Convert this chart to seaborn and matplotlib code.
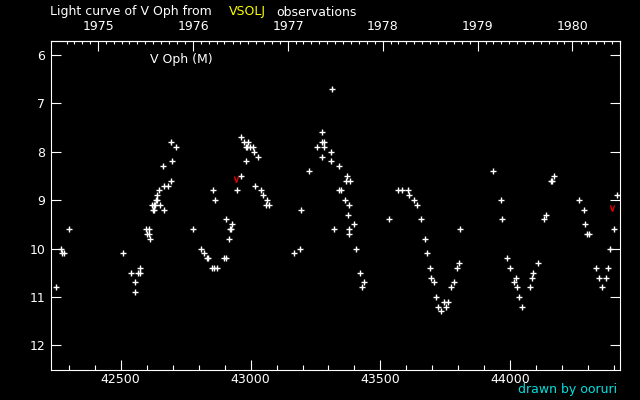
#!/usr/bin/env python3

# Light curve of V Oph (VSOLJ visual estimates), drawn in the old black style

import pandas as pd
import matplotlib
matplotlib.use("Agg")
import matplotlib.pyplot as plt
import seaborn as sns
from matplotlib.ticker import MultipleLocator

# Observations: JD - 2400000 and visual magnitude
jd = [
    42252, 42271, 42275, 42283, 42302,
    42510, 42541, 42556, 42556, 42568, 42575, 42575, 42599, 42610, 42602,
    42610, 42614, 42622, 42629, 42633, 42626, 42629, 42637, 42641, 42641,
    42649, 42652, 42668, 42683, 42668, 42664, 42695, 42695, 42699, 42714,
    42780, 42810, 42822, 42833, 42837, 42853, 42860, 42872, 42857, 42864,
    42899, 42907, 42907, 42918, 42922, 42926, 42930, 42949, 42964, 42976,
    42991, 42984, 42988, 42999, 43011, 43014, 43030, 42984, 42964, 43018,
    43041, 43049, 43064, 43061, 43072,
    43168, 43192, 43195, 43226, 43257, 43276, 43276, 43284, 43284, 43276,
    43311, 43311, 43315, 43322, 43342, 43342, 43349, 43365, 43369, 43373,
    43376, 43380, 43380, 43380, 43384, 43400, 43407, 43423, 43430, 43438,
    43534, 43569, 43584, 43607, 43611, 43631, 43642, 43658, 43673, 43681,
    43692, 43696, 43708, 43715, 43723, 43734, 43746, 43754, 43761, 43773,
    43785, 43796, 43804, 43808,
    43935, 43966, 43969, 43989, 44000, 44016, 44023, 44027, 44035, 44046,
    44077, 44085, 44089, 44108, 44131, 44139, 44158, 44162, 44170,
    44266, 44285, 44289, 44297, 44304, 44331, 44343, 44354, 44370, 44378,
    44384, 44401, 44412,
]
mag = [
    10.8, 10.0, 10.1, 10.1, 9.6,
    10.1, 10.5, 10.7, 10.9, 10.5, 10.5, 10.4, 9.6, 9.6, 9.7,
    9.7, 9.8, 9.1, 9.1, 9.1, 9.2, 9.2, 9.0, 9.0, 8.9,
    8.8, 9.1, 8.7, 8.7, 9.2, 8.3, 8.6, 7.8, 8.2, 7.9,
    9.6, 10.0, 10.1, 10.2, 10.2, 10.4, 10.4, 10.4, 8.8, 9.0,
    10.2, 10.2, 9.4, 9.8, 9.6, 9.6, 9.5, 8.8, 7.7, 7.8,
    7.8, 7.9, 7.9, 7.9, 7.9, 8.0, 8.1, 8.2, 8.5, 8.7,
    8.8, 8.9, 9.0, 9.1, 9.1,
    10.1, 10.0, 9.2, 8.4, 7.9, 7.6, 7.8, 7.8, 7.9, 8.1,
    8.0, 8.2, 6.7, 9.6, 8.3, 8.8, 8.8, 9.0, 8.6, 8.5,
    9.3, 9.1, 9.6, 9.7, 8.6, 9.5, 10.0, 10.5, 10.8, 10.7,
    9.4, 8.8, 8.8, 8.8, 8.9, 9.0, 9.1, 9.4, 9.8, 10.1,
    10.4, 10.6, 10.7, 11.0, 11.2, 11.3, 11.1, 11.2, 11.1, 10.8,
    10.7, 10.4, 10.3, 9.6,
    8.4, 9.0, 9.4, 10.2, 10.4, 10.7, 10.6, 10.8, 11.0, 11.2,
    10.8, 10.6, 10.5, 10.3, 9.4, 9.3, 8.6, 8.6, 8.5,
    9.0, 9.2, 9.5, 9.7, 9.7, 10.4, 10.6, 10.8, 10.6, 10.4,
    10.0, 9.6, 8.9,
]

# the two red "v" marks
jd_v = [42945, 44393]
mag_v = [8.56, 9.17]

years = [1975, 1976, 1977, 1978, 1979, 1980]

obs = pd.DataFrame({"JD": jd, "mag": mag})
obs_v = pd.DataFrame({"JD": jd_v, "mag": mag_v})

sns.set_style("dark")
plt.rcParams.update({
    "figure.facecolor": "black",
    "axes.facecolor": "black",
    "axes.edgecolor": "white",
    "axes.linewidth": 0.8,
    "xtick.color": "white",
    "ytick.color": "white",
    "text.color": "white",
    "font.size": 9,
})
plt.rcParams["font.family"] = ["DejaVu Sans"]

fig = plt.figure(figsize=(6.4, 4.0), dpi=100)
ax = fig.add_axes([50.7 / 640, 30 / 400, 569.6 / 640, 329 / 400])

sns.scatterplot(data=obs, x="JD", y="mag", ax=ax, marker="+", s=16,
                color="white", linewidth=1.0)
sns.scatterplot(data=obs_v, x="JD", y="mag", ax=ax, marker=r"$\vee$", s=18,
                color="red", edgecolor="red", linewidth=0.2)

ax.set_xlim(42230.5, 44423.6)
ax.set_ylim(12.51, 5.713)
ax.set_xlabel("")
ax.set_ylabel("")
ax.grid(False)

ax.xaxis.set_major_locator(MultipleLocator(500))
ax.xaxis.set_minor_locator(MultipleLocator(100))
ax.yaxis.set_major_locator(MultipleLocator(1))
ax.tick_params(axis="x", which="major", direction="in", length=7.2, width=0.8,
               pad=2.5, labelsize=9, bottom=True, top=False)
ax.tick_params(axis="x", which="minor", direction="in", length=3.6, width=0.8,
               bottom=True, top=False)
ax.tick_params(axis="y", which="major", direction="in", length=7.2, width=0.8,
               pad=4, labelsize=9, left=True, right=True, labelright=False)

# year scale along the top
year_jd = [pd.Timestamp(f"{y}-01-01").to_julian_date() - 2400000 for y in years]
month_jd = [d.to_julian_date() - 2400000
            for d in pd.date_range("1974-09-01", "1980-09-01", freq="MS")]
top = ax.secondary_xaxis("top")
top.set_xticks(year_jd, labels=[str(y) for y in years])
top.set_xticks(month_jd, minor=True)
top.tick_params(which="major", direction="in", length=7.2, width=0.8, pad=5.5,
                labelsize=9, colors="white")
top.tick_params(which="minor", direction="in", length=2.5, width=0.8,
                colors="white")
top.spines["top"].set_color("white")

ax.text(150 / 640, 1 - 60 / 400, "V Oph (M)", transform=fig.transFigure,
        ha="left", va="center", fontsize=9)

fig.text(50 / 640, 1 - 12 / 400, "Light curve of V Oph from", ha="left",
         va="center", fontsize=9)
fig.text(229 / 640, 1 - 12 / 400, "VSOLJ", ha="left", va="center",
         fontsize=9, color="yellow")
fig.text(276 / 640, 1 - 12 / 400, "observations", ha="left", va="center",
         fontsize=9)
fig.text(617 / 640, 1 - 390 / 400, "drawn by ooruri", ha="right",
         va="center", fontsize=9, color="#00e0e0")

fig.savefig("out.png", dpi=100, facecolor="black")
